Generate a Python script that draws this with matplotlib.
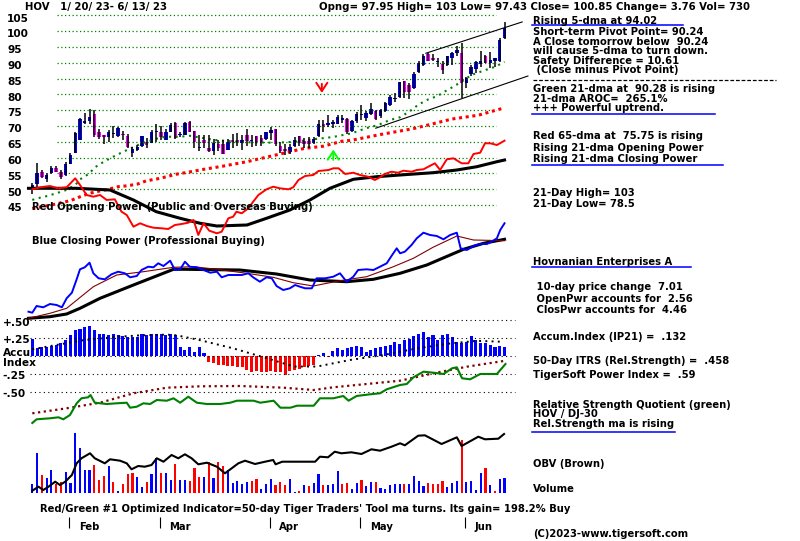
import numpy as np
import matplotlib
matplotlib.use('Agg')
import matplotlib.pyplot as plt
from matplotlib import transforms

W, H = 800, 541
plt.rcParams['font.family'] = ['DejaVu Sans']
FS = 7.2
FS_BIG = 7.3
FW = 'bold'

# ---------------- data (HOV daily, 1/20/23 - 6/13/23) ----------------
opens = [50.0, 51.8, 55.5, 53.1, 55.0, 56.6, 55.5, 54.5, 58.0, 61.3,
         65.5, 70.8, 71.5, 73.9, 68.2, 67.0, 66.4, 67.4, 66.8, 67.6,
         66.8, 61.5, 62.4, 63.6, 65.0, 64.7, 68.0, 68.2, 65.7, 68.2,
         70.8, 67.0, 67.3, 71.1, 68.3, 63.0, 65.7, 63.1, 62.2, 64.2,
         64.4, 62.5, 65.6, 65.6, 64.6, 67.0, 65.2, 66.7, 66.2, 66.0,
         67.8, 68.9, 63.8, 62.8, 61.7, 63.8, 66.7, 65.1, 65.1, 64.6,
         66.7, 70.5, 70.3, 70.5, 70.7, 72.0, 72.2, 68.5, 71.5, 73.5,
         72.5, 73.8, 74.6, 73.0, 74.6, 76.7, 78.5, 79.3, 84.3, 83.0,
         82.0, 87.2, 89.3, 92.7, 91.4, 90.3, 89.6, 89.3, 91.4, 93.0,
         93.2, 83.7, 86.4, 88.0, 89.5, 92.0, 89.8, 90.4, 90.6, 97.95]
highs = [52.0, 58.3, 56.0, 55.0, 57.2, 57.3, 56.0, 58.7, 61.5, 68.2,
         72.4, 74.0, 75.5, 75.0, 69.0, 67.2, 68.8, 70.0, 69.6, 68.3,
         67.6, 63.5, 64.0, 66.9, 66.2, 68.6, 70.5, 70.0, 69.0, 71.0,
         71.3, 68.2, 71.3, 71.5, 68.3, 67.0, 67.0, 67.0, 66.0, 65.5,
         65.5, 65.9, 67.4, 67.9, 67.0, 69.1, 67.3, 66.7, 67.0, 68.1,
         69.6, 68.9, 64.9, 64.2, 64.4, 66.5, 66.7, 66.3, 66.4, 66.5,
         71.8, 72.0, 73.4, 72.0, 73.4, 73.4, 72.5, 72.0, 74.5, 76.5,
         74.8, 77.2, 75.0, 75.5, 77.7, 79.8, 80.5, 84.0, 84.3, 83.7,
         87.2, 90.4, 92.8, 93.2, 92.8, 91.6, 90.4, 92.2, 93.5, 95.2,
         96.2, 85.6, 89.3, 90.7, 93.7, 92.5, 93.5, 91.4, 97.7, 103.0]
lows = [48.5, 50.7, 53.5, 52.3, 54.8, 55.5, 53.3, 54.2, 58.0, 61.3,
        65.5, 70.5, 70.5, 66.5, 66.0, 64.2, 64.8, 66.3, 66.5, 65.5,
        63.0, 60.3, 62.2, 63.2, 63.1, 64.5, 65.0, 65.5, 65.5, 68.0,
        66.0, 66.5, 67.0, 68.0, 63.1, 62.2, 63.1, 61.8, 60.7, 62.2,
        61.2, 62.3, 62.9, 63.7, 62.3, 63.7, 63.5, 63.8, 63.8, 65.5,
        65.5, 63.8, 61.3, 60.8, 61.2, 63.5, 63.8, 63.1, 63.1, 64.2,
        66.5, 68.0, 69.6, 69.3, 70.5, 70.8, 67.5, 68.0, 70.8, 72.0,
        71.5, 73.5, 71.8, 72.5, 74.3, 76.4, 77.5, 79.0, 78.8, 78.5,
        81.8, 86.9, 88.9, 90.4, 90.6, 88.8, 86.4, 89.0, 89.3, 92.0,
        78.8, 82.0, 85.8, 86.8, 88.5, 89.8, 88.3, 88.8, 90.1, 97.43]
closes = [51.3, 55.2, 53.9, 54.5, 56.6, 55.5, 53.9, 58.0, 60.8, 67.7,
          72.1, 71.7, 72.8, 67.1, 66.6, 66.5, 68.2, 67.8, 69.2, 67.1,
          63.2, 62.6, 63.4, 66.9, 63.9, 68.2, 68.5, 66.6, 68.2, 70.3,
          66.3, 67.5, 71.0, 68.2, 64.9, 63.5, 64.6, 62.2, 64.6, 63.1,
          61.2, 64.9, 64.9, 64.9, 65.7, 65.4, 65.7, 64.9, 64.9, 68.1,
          68.8, 64.2, 62.0, 62.0, 63.5, 65.7, 64.6, 64.4, 64.4, 66.0,
          70.7, 70.0, 70.8, 71.2, 72.8, 72.5, 68.0, 71.5, 73.8, 73.8,
          74.2, 75.3, 72.2, 75.0, 77.2, 79.1, 79.0, 83.8, 80.9, 80.9,
          86.4, 89.8, 92.2, 90.7, 90.9, 90.5, 87.7, 92.0, 93.0, 94.0,
          83.7, 85.1, 88.5, 90.1, 90.6, 89.8, 90.9, 91.4, 97.2, 100.85]

# volume (hundreds of shares) and up/down day flags
volume = [435, 2000, 885, 735, 1135, 465, 535, 1035, 500, 3000,
          2235, 1135, 1135, 1385, 635, 835, 1335, 535, 100, 435,
          935, 1000, 785, 285, 535, 935, 1735, 1000, 1000, 635,
          1435, 635, 635, 585, 1235, 785, 785, 1535, 735, 1535,
          1335, 1135, 485, 585, 435, 535, 585, 685, 185, 435,
          685, 385, 535, 385, 685, 35, 85, 385, 335, 485,
          935, 385, 385, 435, 1085, 435, 485, 185, 485, 635,
          335, 535, 535, 235, 185, 385, 435, 435, 435, 435,
          835, 585, 335, 485, 435, 435, 585, 285, 485, 585,
          2635, 535, 585, 135, 985, 1235, 385, 85, 685, 730]
vol_dir = ("bbrbbrrbbb" "bbbrrrbrbr" "rrbbrbbrbb" "rbbrrrbrbr" "rbbbbbrrbb"
           "brrrbbrbrb" "brbbbrrbbr" "bbrbbbbbrb" "bbbrrrrbbb" "rbbbbrbrbb")

# Accumulation index (IP21)
accum = [.245, .116, .12, .13, .14, .153, .176, .222, .29, .37,
         .384, .407, .417, .36, .315, .315, .29, .315, .29, .28,
         .27, .26, .27, .315, .29, .315, .305, .305, .29, .305,
         .29, .13, .083, .12, .06, .13, .037, -.08, -.10, -.12,
         -.13, -.14, -.14, -.15, -.16, -.19, -.22, -.21, -.22, -.22,
         -.21, -.22, -.23, -.26, -.21, -.19, -.18, -.15, -.14, -.12,
         .01, .046, -.02, .074, .106, .083, .106, .13, .139, .13,
         .06, .083, .106, .13, .139, .153, .2, .167, .23, .245,
         .28, .315, .338, .26, .29, .23, .29, .305, .27, .2,
         .176, .2, .28, .23, .176, .176, .153, .13, .14, .132]
accum_ma_day = [0, 3.7, 10.7, 17.7, 22.6, 28.2, 30.3, 35.2, 42.2, 49.2, 54.8, 59.7, 66.6, 73.6, 80.6, 87.6, 93.2, 98.5]
accum_ma_val = [.093, .139, .222, .269, .29, .30, .29, .222, .106, -.032, -.148, -.148, -.056, .014, .106, .176, .213, .20]

# moving averages on price
ma21_day = [0, 1, 3, 5, 7, 9, 10, 12, 13, 15, 17, 19, 21, 23, 25, 27, 29, 31, 33, 38, 44, 51, 55, 59, 63, 67,
            70, 72.5, 75, 77, 79, 81, 83, 85, 86, 88, 90, 92, 95, 97, 99]
ma21_val = [46.6, 47.1, 47.8, 48.7, 49.7, 51.3, 53.1, 55.0, 56.8, 58.7, 60.3, 61.8, 63.2, 64.5, 65.5, 66.4, 66.6,
            66.6, 66.9, 65.6, 64.9, 64.7, 65.0, 65.8, 66.5, 67.7, 69.3, 70.3, 71.9, 72.7, 74.5, 76.8, 78.4, 79.5,
            80.5, 82.2, 84.0, 86.1, 87.7, 88.7, 90.28]
ma65_day = [0, 4, 8, 10, 12, 14, 16, 18, 20, 22, 24, 26, 28, 30, 32, 36, 40, 45, 49, 53, 57, 61, 65, 67, 73,
            80, 88, 93.5, 99]
ma65_val = [43.9, 45.0, 46.4, 47.6, 48.7, 49.4, 50.0, 50.8, 51.1, 51.6, 52.7, 53.2, 53.9, 54.7, 55.2, 56.3, 57.3,
            58.7, 60.1, 61.5, 62.9, 63.6, 65.2, 65.5, 67.3, 69.2, 72.2, 73.4, 75.75]

# trend channel (day, price)
chan_up_day, chan_up_val = [82.5, 102.7], [93.0, 102.9]
chan_lo_day, chan_lo_val = [72.0, 103.9], [69.3, 85.8]

# signal arrows: (day, tail price, head price)
sell_sig = (60.7, 84.2, 79.6)
buy_sig = (63.1, 58.4, 63.4)

# Opening Power (red) and its 21-dma
op_day = [0, 1.6, 3.7, 5.4, 7.2, 9, 10, 11.4, 12.8, 14.2, 15.6, 17.3, 18.7, 19.8, 21.2, 22.6, 24, 25.4, 27.1, 28.5,
          29.9, 31.3, 32.7, 33.8, 34.8, 35.9, 37.1, 38.7, 39.7, 41.1, 42.1, 42.8, 43.9, 45.3, 46.3, 47.4, 49.1,
          50.5, 51.9, 53.7, 54.7, 55.8, 57.2, 58.9, 60, 62.1, 63.1, 64.2, 65.6, 67.3, 68.7, 70.4, 71.8, 72.9,
          73.9, 75.3, 76.7, 77.8, 79.5, 80.6, 82, 83.7, 84.4, 85.5, 86.9, 88.3, 90, 91.4, 92.5, 93.9, 94.9, 96,
          97.4, 99]
op_val = [10.7, 12.7, 14, 11.7, 12.7, 21.7, 15, 5, 3.3, 5, 0, 0.7, -11.7, -15, -26.7, -23.3, -26, -27.7, -28.3,
          -29, -25, -24, -22.7, -20, -35, -23.3, -30.7, -33.3, -31.7, -18.3, -16.7, -11.7, -13.3, -8.3, -1.7, 5,
          10.7, 13.3, 11.7, 10.7, 12.7, 20, 24, 25, 29, 30, 31.7, 31.7, 26, 27.3, 25, 23.3, 20, 22.7, 26, 28.3,
          27.3, 29.3, 28.3, 30, 30.7, 35, 36.7, 30, 40.7, 41.7, 36.7, 36.7, 46, 47.3, 56.7, 56.7, 55, 59.3]
op_ma_day = [-0.8, 9.3, 16.3, 21.2, 26, 31, 35.2, 38.7, 45, 49.1, 54, 58.2, 62.4, 67.3, 72.2, 77.1, 84, 89, 93.2,
             97.4, 99]
op_ma_val = [11.7, 11.7, 10, 0, -11.7, -18.3, -23.3, -26, -25, -18.3, -10, 0, 11.7, 20.7, 23.3, 25, 27.3, 30,
             33.3, 38.3, 40]

# Closing Power (blue), its 21-dma (black) and short ma (brown)
cp_day = [-0.8, 0, 0.9, 2.3, 3.7, 5.1, 6.2, 7.2, 8.3, 9.3, 10, 11, 12, 12.8, 13.9, 15.2, 16.6, 18, 19.4, 20.5,
          21.9, 22.9, 24.3, 25.4, 26.4, 27.5, 28.9, 29.9, 31, 32, 33, 34.5, 35.9, 37.3, 38.7, 39.7, 41.1, 42.5,
          43.9, 45.3, 46.3, 47.7, 49.1, 50.2, 51.2, 52.6, 54, 55.1, 56.1, 57.2, 58.6, 59.6, 61.4, 63.1, 64.5,
          65.9, 67.3, 68.3, 70.1, 71.5, 72.9, 74.3, 75.3, 76.4, 77.1, 78.1, 79.5, 80.6, 82, 83.4, 84.8, 86.2,
          87.6, 89, 89.8, 91.1, 92.5, 93.9, 95.3, 96.3, 97.4, 98.1, 99]
cp_val = [-11.7, -12.7, -6, -7.3, -4, -5, -7.3, 1.7, 7.3, 20.7, 30.7, 32.7, 37.3, 26.7, 21.7, 20.7, 25.7, 28.3,
          26.7, 22.7, 24, 30, 33.3, 32.7, 36.7, 34, 39.3, 30, 30.7, 38.3, 33.3, 32.7, 30, 27.3, 28.3, 22.7, 25,
          25, 25, 26.7, 22.7, 18.3, 22.7, 21.7, 14, 10, 11.7, 15, 13.3, 11.7, 11.7, 21.7, 21.7, 23.3, 26.7, 18.3,
          23.3, 30, 30.7, 30, 33.3, 36.7, 44, 51.7, 46.7, 48.3, 55, 61.7, 67.3, 65, 64, 60.7, 65, 67.3, 51.7, 50,
          54, 56, 56, 58.3, 61.7, 70, 76.7]
cp_ma_day = [-0.8, 3.7, 7.2, 10, 14.2, 21.2, 29.6, 32, 43.5, 51.2, 58.2, 65.9, 71.5, 77.1, 82.7, 87.6, 90.4,
             94.6, 99]
cp_ma_val = [-18.3, -16.7, -14, -8.3, 1.7, 15, 30.7, 30.7, 30, 26, 20, 18.3, 20.7, 26.7, 35, 45, 50.7, 56.7, 60.7]
cp_ma2_day = [-0.8, 3.7, 7.2, 12.8, 17.7, 23.3, 29.6, 33.8, 38.7, 45, 50.5, 54.7, 58.9, 64.5, 70.1, 75.7, 79.9,
              84, 89, 92.5, 99]
cp_ma2_val = [-18.3, -13.3, -8.3, 13.3, 25, 28.3, 32.7, 33.3, 30.7, 26.7, 22.7, 17.3, 14, 19.3, 23.3, 33.3, 41.7,
              52.7, 64, 60, 59.3]

# Relative strength quotient vs DJ-30 (green) and its ma (brown)
rs_day = [0, 0.9, 3.7, 5.5, 6.5, 7.9, 9.3, 10.3, 11.7, 12.2, 13.1, 15.6, 17.7, 19.8, 20.5, 21.9, 23.3, 24.7,
          26.1, 28.2, 29.6, 31, 32.7, 34.5, 36.6, 39.4, 41.5, 42.9, 46.4, 47.8, 50.6, 52, 54.1, 55.5, 59, 60.3,
          63.1, 65.2, 66.3, 68, 70.8, 72.9, 74.3, 77.1, 78.5, 79.9, 82, 84.1, 86.2, 88, 89, 90.1, 91.8, 93.9,
          97.4, 99.2]
rs_val = [17, 20.7, 21.7, 22.7, 20.7, 25, 36.7, 41.7, 42.7, 45, 37.3, 36, 36.7, 37.3, 32.3, 33.3, 36.7, 36, 40,
          39.3, 41.7, 37.3, 43.3, 37.3, 36, 36, 37.3, 39.3, 39.3, 37.3, 39.3, 32.3, 32.3, 34.3, 34.3, 41.7, 41.7,
          44, 39.3, 44, 45.7, 46.7, 50.7, 55, 56, 62.7, 68.3, 67.3, 66, 71.7, 72.7, 61.7, 60.7, 66, 66, 76]
rs_ma_day = [0, 7.2, 14.2, 21.2, 28.2, 35.2, 43.6, 52.7, 59, 63.1, 70.1, 77.1, 84.1, 91.1, 99.2]
rs_ma_val = [26.7, 31.7, 37.3, 46.7, 52.3, 53.7, 54, 52.3, 50, 52.7, 56, 59.3, 66.7, 73.3, 79.3]

# On-balance volume
obv_day = [0, 1.3, 2.3, 3.4, 4.8, 5.8, 6.9, 8.3, 9.3, 10.3, 12.1, 13.1, 15.2, 16.3, 18.4, 19.8, 20.8, 22.2,
           23.6, 25, 26.1, 27.5, 29.2, 30.6, 32, 33.4, 34.8, 36.6, 38.7, 40.4, 41.8, 43.2, 44.6, 46.7, 48.8,
           50.5, 51, 52.4, 59.3, 60.3, 62, 63.4, 64.8, 66.9, 69, 71.1, 72.9, 75.3, 77.1, 78.1, 80.9, 82.3, 85.8,
           89, 90, 93.5, 94.9, 97.7, 98.9]
obv_val = [115, 315, 150, 315, 565, 400, 565, 900, 1485, 1735, 1985, 1735, 1485, 1685, 1615, 1485, 1185, 1350,
           1315, 1400, 1735, 1565, 1900, 1735, 1935, 1735, 1435, 1515, 1315, 985, 1235, 1485, 1615, 1450, 1565,
           1650, 1435, 1565, 1565, 1815, 1785, 2065, 1985, 2035, 1950, 2185, 2115, 2315, 2485, 2385, 2865, 2885,
           2450, 2785, 2350, 2815, 2685, 2715, 2950]

month_names = ["Feb", "Mar", "Apr", "May", "Jun"]
month_start = [8, 27, 50, 69, 91]

price_ticks = [105, 100, 95, 90, 85, 80, 75, 70, 65, 60, 55, 50, 45]
accum_ticks = [.5, .25, 0, -.25, -.5]
accum_tick_labels = ["+.50", "+.25", "", "-.25", "-.50"]

right_lines = [
    ("Rising 5-dma at 94.02", 21),
    ("Short-term Pivot Point= 90.24", 32.3),
    ("A Close tomorrow below  90.24", 41.7),
    ("will cause 5-dma to turn down.", 51),
    ("Safety Difference = 10.61", 60.7),
    (" (Close minus Pivot Point)", 70),
    ("Green 21-dma at  90.28 is rising", 89),
    ("21-dma AROC=  265.1%", 99.5),
    ("+++ Powerful uptrend.", 108.2),
    ("Red 65-dma at  75.75 is rising", 136),
    ("Rising 21-dma Opening Power", 148),
    ("Rising 21-dma Closing Power", 158.7),
    ("21-Day High= 103", 193.3),
    ("21-Day Low= 78.5", 203.7),
    ("Hovnanian Enterprises A", 261.7),
    (" 10-day price change  7.01", 287),
    (" OpenPwr accounts for  2.56", 299),
    (" ClosPwr accounts for  4.46", 310),
    ("Accum.Index (IP21) =  .132", 337.3),
    ("50-Day ITRS (Rel.Strength) =  .458", 360.7),
    ("TigerSoft Power Index =  .59", 375),
    ("Relative Strength Quotient (green)", 405),
    ("HOV / DJ-30", 414),
    ("Rel.Strength ma is rising", 423.7),
    ("OBV (Brown)", 464),
    ("Volume", 489),
    ("(C)2023-www.tigersoft.com", 534.3),
]
underlines = [(25, 532, 683), (114.3, 532, 715), (165.3, 532, 723), (267.3, 532, 691), (431.7, 532, 675)]

# ---------------- layout helpers ----------------
X0 = -32.3 / 4.77
X1 = (W - 32.3) / 4.77

fig = plt.figure(figsize=(W / 100, H / 100), dpi=100)
fig.patch.set_facecolor('white')


def span(y_ref, v_ref, ppu):
    # ylim so that value v_ref sits at pixel row y_ref, ppu pixels per unit
    return v_ref - (H - y_ref) / ppu, v_ref + y_ref / ppu


def layer(ylim):
    a = fig.add_axes([0, 0, 1, 1], facecolor='none')
    a.set_xlim(X0, X1)
    a.set_ylim(*ylim)
    a.axis('off')
    return a


def ftext(x, y, s, **kw):
    kw.setdefault('fontsize', FS)
    kw.setdefault('fontweight', FW)
    kw.setdefault('va', 'center')
    kw.setdefault('ha', 'left')
    fig.text(x / W, 1 - y / H, s, **kw)


def fline(x0, x1, y, **kw):
    fig.add_artist(plt.Line2D([x0 / W, x1 / W], [1 - y / H, 1 - y / H], transform=fig.transFigure, **kw))


ax_p = layer(span(15.3, 105, 3.162))
ax_op = layer(span(200, 0, 1))
ax_cp = layer(span(300, 0, 1))
ax_ac = layer(span(356, 0, 71.2))
ax_rs = layer(span(440, 0, 1))
ax_v = layer(span(493, 0, 1 / 50))
ax_px = layer((H, 0))

days = np.arange(len(closes))
o = np.array(opens); c = np.array(closes)

# ---------------- price panel ----------------
ax_p.hlines(price_ticks, 5.2, 97.2, colors='#008000', linestyles=(0, (1, 2)), lw=0.9)
ax_p.plot(ma65_day, ma65_val, color='#FF0000', lw=2.2, ls=(0, (1, 1.2)))
ax_p.plot(ma21_day, ma21_val, color='#008000', lw=1.5, ls=(0, (1, 2.2)))
ax_p.plot(chan_up_day, chan_up_val, color='black', lw=0.8)
ax_p.plot(chan_lo_day, chan_lo_val, color='black', lw=0.8)
ax_p.vlines(days, lows, highs, color='black', lw=1.1)
up = c >= o
ax_p.bar(days, np.maximum(np.abs(c - o), 0.35), bottom=np.minimum(o, c), width=0.72,
         color=np.where(up, '#0000FF', '#FF00FF'), linewidth=0)
ax_p.annotate('', xy=(sell_sig[0], sell_sig[2]), xytext=(sell_sig[0], sell_sig[1]),
              arrowprops=dict(arrowstyle='->,head_length=0.6,head_width=0.4', color='#FF0000', lw=1.4))
ax_p.annotate('', xy=(buy_sig[0], buy_sig[2]), xytext=(buy_sig[0], buy_sig[1]),
              arrowprops=dict(arrowstyle='->,head_length=0.6,head_width=0.4', color='#00FF00', lw=1.4))

ptrans = transforms.blended_transform_factory(fig.transFigure, ax_p.transData) + \
    transforms.ScaledTranslation(0, -3.3 / 100, fig.dpi_scale_trans)
for p in price_ticks:
    ax_p.text(7 / W, p, str(p), transform=ptrans, fontsize=FS_BIG + 0.3, fontweight=FW, va='center', ha='left')

# ---------------- opening / closing power ----------------
ax_op.plot(op_ma_day, op_ma_val, color='black', lw=2.2)
ax_op.plot(op_day, op_val, color='#FF0000', lw=1.4)
ax_cp.plot(cp_ma_day, cp_ma_val, color='black', lw=2.2)
ax_cp.plot(cp_ma2_day, cp_ma2_val, color='#800000', lw=0.8)
ax_cp.plot(cp_day, cp_val, color='#0000FF', lw=1.4)

# ---------------- accumulation index ----------------
ax_ac.hlines(accum_ticks, -0.5, 101.2, colors='black', linestyles=(0, (1, 3)), lw=0.8)
acc = np.array(accum)
ax_ac.bar(days, acc, width=0.64, color=np.where(acc >= 0, '#0000FF', '#FF0000'), linewidth=0)
ax_ac.plot(accum_ma_day, accum_ma_val, color='black', lw=1.4, ls=(0, (1, 2.2)))
atrans = transforms.blended_transform_factory(fig.transFigure, ax_ac.transData) + \
    transforms.ScaledTranslation(0, -2.2 / 100, fig.dpi_scale_trans)
for v, lab in zip(accum_ticks, accum_tick_labels):
    if lab:
        ax_ac.text(2.5 / W, v, lab, transform=atrans, fontsize=FS_BIG + 0.3, fontweight=FW, va='center', ha='left')
ftext(2.5, 353.2, "Accu", fontsize=FS_BIG + 0.3)
ftext(2.5, 363.5, "Index", fontsize=FS_BIG + 0.3)

# ---------------- relative strength ----------------
ax_rs.plot(rs_ma_day, rs_ma_val, color='#800000', lw=1.6, ls=(0, (1, 1.6)))
ax_rs.plot(rs_day, rs_val, color='#008000', lw=1.5)

# ---------------- volume / OBV ----------------
vcol = ['#0000FF' if f == 'b' else '#FF0000' for f in vol_dir]
ax_v.bar(days, volume, width=0.45, color=vcol, linewidth=0)
ax_v.plot(obv_day, obv_val, color='black', lw=1.5)

# month ticks
ms = np.array(month_start) - 0.25
ax_px.vlines(ms, 517, 528, color='black', lw=0.8)
for m, name in zip(ms, month_names):
    ax_px.text(m + 2.0, 527, name, fontsize=FS, fontweight=FW, va='center', ha='left')

# ---------------- texts ----------------
ftext(25, 7, "HOV   1/ 20/ 23- 6/ 13/ 23", fontsize=FS_BIG)
ftext(319, 7, "Opng= 97.95 High= 103 Low= 97.43 Close= 100.85 Change= 3.76 Vol= 730", fontsize=FS_BIG)
ftext(32.3, 206.7, "Red Opening Power (Public and Overseas Buying)")
ftext(32.3, 240.7, "Blue Closing Power (Professional Buying)")
ftext(40.5, 508.5, "Red/Green #1 Optimized Indicator=50-day Tiger Traders' Tool ma turns. Its gain= 198.2% Buy")

for s, y in right_lines:
    ftext(533, y, s)
for y, x0, x1 in underlines:
    fline(x0, x1, y, color='#0000FF', lw=1.1)
fline(533, 776, 80, color='black', lw=0.9, ls=(0, (3, 1.5)))

fig.savefig('out.png', dpi=100)
